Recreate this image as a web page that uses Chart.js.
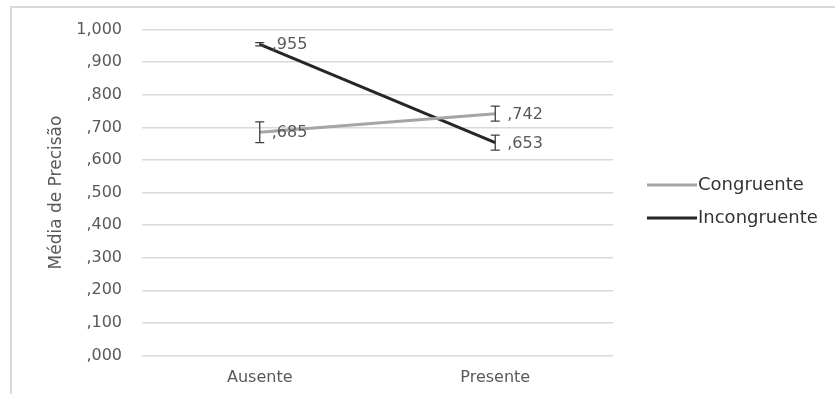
<!DOCTYPE html>
<html>
<head>
<meta charset="utf-8">
<script src="https://cdn.jsdelivr.net/npm/chart.js@4/dist/chart.umd.min.js"></script>
<style>
  html, body { margin: 0; padding: 0; background: #ffffff; }
  #wrap { position: relative; width: 835px; height: 394px; }
</style>
</head>
<body>
<div id="wrap"><canvas id="c" width="835" height="394"></canvas></div>
<script>
// Categories and series
const categories = ['Ausente', 'Presente'];
const seriesNames = ['Congruente', 'Incongruente'];
const congruente = [0.685, 0.742];
const incongruente = [0.955, 0.653];
// Half-length of each error bar
const congruenteErr = [0.032, 0.023];
const incongruenteErr = [0.005, 0.023];
const yTicks = [0, 0.1, 0.2, 0.3, 0.4, 0.5, 0.6, 0.7, 0.8, 0.9, 1.0];
const axisTitle = 'Média de Precisão';

const FONT = '"DejaVu Sans", sans-serif';

// Portuguese decimal style without leading zero: 0.685 -> ",685"
function fmt(v) {
  return v.toFixed(3).replace('.', ',').replace(/^0(?=,)/, '');
}

const errorBars = {
  id: 'errorBars',
  afterDatasetsDraw(chart) {
    const ctx = chart.ctx;
    const ys = chart.scales.y;
    ctx.save();
    chart.data.datasets.forEach((ds, i) => {
      const meta = chart.getDatasetMeta(i);
      meta.data.forEach((pt, j) => {
        const v = ds.data[j], e = ds.errors[j];
        const top = ys.getPixelForValue(v + e);
        const bot = ys.getPixelForValue(v - e);
        ctx.strokeStyle = '#404040';
        ctx.lineWidth = 1.3;
        ctx.beginPath();
        ctx.moveTo(pt.x, top); ctx.lineTo(pt.x, bot);
        ctx.moveTo(pt.x - 4.5, top); ctx.lineTo(pt.x + 4.5, top);
        ctx.moveTo(pt.x - 4.5, bot); ctx.lineTo(pt.x + 4.5, bot);
        ctx.stroke();
      });
    });
    // value labels to the right of each point
    ctx.font = '16px ' + FONT;
    ctx.fillStyle = '#595959';
    ctx.textAlign = 'left';
    ctx.textBaseline = 'middle';
    chart.data.datasets.forEach((ds, i) => {
      const meta = chart.getDatasetMeta(i);
      meta.data.forEach((pt, j) => {
        ctx.fillText(fmt(ds.data[j]), pt.x + 12, pt.y + 1);
      });
    });
    ctx.restore();
  }
};

const frameAndLegend = {
  id: 'frameAndLegend',
  beforeDraw(chart) {
    const ctx = chart.ctx;
    ctx.save();
    ctx.strokeStyle = '#d9d9d9';
    ctx.lineWidth = 2;
    ctx.beginPath();
    ctx.moveTo(11, 394); ctx.lineTo(11, 7); ctx.lineTo(835, 7);
    ctx.stroke();
    ctx.restore();
  },
  afterDraw(chart) {
    const ctx = chart.ctx;
    ctx.save();
    const ys0 = 185, gap = 33;
    chart.data.datasets.forEach((ds, i) => {
      const y = ys0 + i * gap;
      ctx.strokeStyle = ds.borderColor;
      ctx.lineWidth = 3;
      ctx.beginPath();
      ctx.moveTo(647, y); ctx.lineTo(697, y);
      ctx.stroke();
      ctx.font = '18px ' + FONT;
      ctx.fillStyle = '#333333';
      ctx.textBaseline = 'middle';
      ctx.textAlign = 'left';
      ctx.fillText(ds.label, 698, y);
    });
    ctx.restore();
  }
};

new Chart(document.getElementById('c'), {
  type: 'line',
  data: {
    labels: categories,
    datasets: [
      {
        label: seriesNames[0],
        data: congruente,
        errors: congruenteErr,
        borderColor: '#a5a5a5',
        backgroundColor: '#a5a5a5',
        borderWidth: 3,
        pointRadius: 0,
        tension: 0
      },
      {
        label: seriesNames[1],
        data: incongruente,
        errors: incongruenteErr,
        borderColor: '#262626',
        backgroundColor: '#262626',
        borderWidth: 3,
        pointRadius: 0,
        tension: 0
      }
    ]
  },
  options: {
    responsive: false,
    animation: false,
    layout: { padding: { left: 0, right: 222, top: 26, bottom: 0 } },
    plugins: {
      legend: { display: false },
      tooltip: { enabled: false }
    },
    scales: {
      x: {
        type: 'category',
        offset: true,
        grid: { display: false, drawTicks: false },
        border: { display: false },
        ticks: {
          color: '#595959',
          font: { family: FONT, size: 16 },
          padding: 13
        },
        afterFit(scale) { scale.height = 38.5; }
      },
      y: {
        min: 0,
        max: 1,
        afterBuildTicks(scale) { scale.ticks = yTicks.map(v => ({ value: v })); },
        grid: { color: '#d9d9d9', lineWidth: 1.5, drawTicks: false },
        border: { display: false },
        ticks: {
          color: '#595959',
          font: { family: FONT, size: 16 },
          padding: 20,
          callback: (v) => fmt(v)
        },
        title: {
          display: true,
          text: axisTitle,
          color: '#595959',
          font: { family: FONT, size: 17 },
          padding: { top: 46, bottom: 0 }
        },
        afterFit(scale) { scale.width = 142; }
      }
    }
  },
  plugins: [errorBars, frameAndLegend]
});
</script>
</body>
</html>
